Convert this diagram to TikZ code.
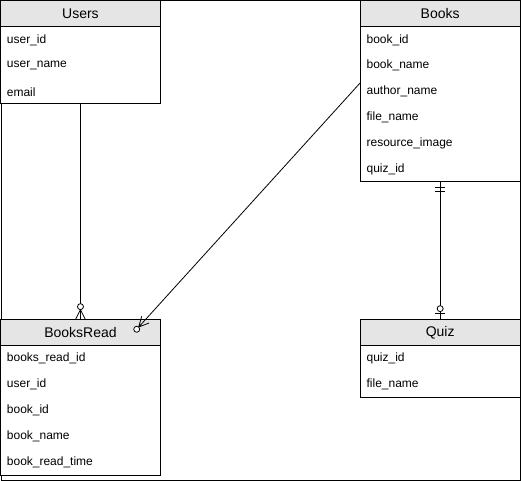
\documentclass[tikz,border=0pt]{standalone}
\usepackage{fontspec}
\setmainfont{Liberation Sans}
\usetikzlibrary{positioning}
\begin{document}
\begin{tikzpicture}[x=0.75pt,y=-0.75pt]
\tikzstyle{table}=[draw,fill=white,line width=0.8pt]
\tikzstyle{head}=[draw,fill=gray!20,line width=0.8pt]
\tikzstyle{field}=[right,inner sep=0pt,font=\fontsize{9}{10}\selectfont]
\tikzstyle{title}=[font=\fontsize{10.5}{12}\selectfont]
\tikzstyle{every path}=[line width=0.6pt]
\tikzset{
  zeromany/.pic={\draw (-10,0) -- (0,-5) (-10,0) -- (0,0) (-10,0) -- (0,5);
    \draw[fill=white] (-13,0) circle (3);},
  zeroone/.pic={\draw (-6,-5) -- (-6,5); \draw[fill=white] (-11,0) circle (3);},
  onemand/.pic={\draw (-6,-5) -- (-6,5) (-10,-5) -- (-10,5);}
}
\draw (0.5,0.5) rectangle (520.5,480.5);

% Users
\draw[table] (0,1) rectangle (160,104);
\draw[head] (0,1) rectangle (160,27);
\node[title] (users) at (80,14) {Users};
\node[field] (users_id) at (6,40) {user\_id};
\node[field] (users_name) at (6,66) {user\_name};
\node[field] (users_email) at (6,92) {email};
\coordinate (users_s) at (80,104);

% Books
\draw[table] (360,1) rectangle (520,182);
\draw[head] (360,1) rectangle (520,27);
\node[title] (books) at (440,14) {Books};
\node[field] (books_id) at (366,40) {book\_id};
\node[field] (books_name) at (366,66) {book\_name};
\node[field] (books_author) at (366,92) {author\_name};
\node[field] (books_file) at (366,118) {file\_name};
\node[field] (books_image) at (366,144) {resource\_image};
\node[field] (books_quiz) at (366,170) {quiz\_id};
\coordinate (books_w) at (360,83);
\coordinate (books_s) at (440,182);

% BooksRead
\draw[table] (0,320) rectangle (160,476);
\draw[head] (0,320) rectangle (160,346);
\node[title] (booksread) at (80,333) {BooksRead};
\node[field] (br_id) at (6,359) {books\_read\_id};
\node[field] (br_user) at (6,385) {user\_id};
\node[field] (br_book) at (6,411) {book\_id};
\node[field] (br_name) at (6,437) {book\_name};
\node[field] (br_time) at (6,463) {book\_read\_time};
\coordinate (br_n) at (80,320);
\coordinate (br_ne) at (145,320);

% Quiz
\draw[table] (360,320) rectangle (520,398);
\draw[head] (360,320) rectangle (520,346);
\node[title] (quiz) at (440,333) {Quiz};
\node[field] (quiz_id) at (366,359) {quiz\_id};
\node[field] (quiz_file) at (366,385) {file\_name};
\coordinate (quiz_n) at (440,320);

% relations
\draw (users_s) -- (br_n) pic[pos=1,sloped]{zeromany};
\draw (books_w) -- (br_ne) pic[pos=1,sloped]{zeromany};
\draw (quiz_n) -- (books_s) pic[pos=1,sloped]{onemand};
\draw (books_s) -- (quiz_n) pic[pos=1,sloped]{zeroone};
\end{tikzpicture}
\end{document}
